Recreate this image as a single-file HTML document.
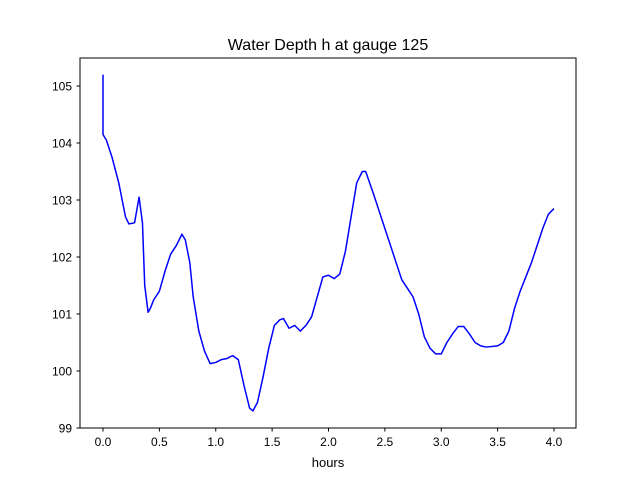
<!DOCTYPE html>
<html><head><meta charset="utf-8">
<style>
html,body{margin:0;padding:0;background:#fff;}
svg{display:block;font-family:"Liberation Sans","DejaVu Sans",sans-serif;}
</style></head>
<body>
<svg id="chart" width="640" height="480" viewBox="0 0 640 480">
<rect x="0" y="0" width="640" height="480" fill="#fff"/>
<text x="328" y="50" font-size="16" text-anchor="middle">Water Depth h at gauge 125</text>
<text x="328" y="467" font-size="13" text-anchor="middle">hours</text>
<g id="ticks"></g>
<path id="line" fill="none" stroke="#0000ff" stroke-width="1.5" stroke-linejoin="round"/>
<rect x="80" y="58" width="496" height="370" fill="none" stroke="#000" stroke-width="1"/>
</svg>
<script>
const hours = [0,0,0.03,0.08,0.14,0.2,0.23,0.28,0.32,0.35,0.37,0.4,0.42,0.45,0.5,0.55,0.6,0.65,0.7,0.73,0.77,0.8,0.85,0.9,0.95,1.0,1.05,1.1,1.15,1.2,1.25,1.3,1.33,1.37,1.42,1.47,1.52,1.57,1.6,1.65,1.7,1.75,1.8,1.85,1.9,1.95,2.0,2.05,2.1,2.15,2.2,2.25,2.3,2.33,2.4,2.5,2.6,2.65,2.7,2.75,2.8,2.85,2.9,2.95,3.0,3.05,3.1,3.15,3.2,3.25,3.3,3.35,3.4,3.5,3.55,3.6,3.65,3.7,3.75,3.8,3.85,3.9,3.95,4.0];
const depth = [105.2,104.15,104.05,103.75,103.3,102.7,102.58,102.6,103.05,102.6,101.5,101.03,101.1,101.25,101.4,101.75,102.05,102.2,102.4,102.3,101.9,101.3,100.7,100.35,100.13,100.15,100.2,100.22,100.27,100.2,99.75,99.35,99.3,99.45,99.9,100.4,100.8,100.9,100.92,100.75,100.8,100.7,100.8,100.95,101.3,101.65,101.68,101.62,101.7,102.1,102.7,103.3,103.5,103.5,103.1,102.5,101.9,101.6,101.45,101.3,101.0,100.6,100.4,100.3,100.3,100.5,100.65,100.78,100.78,100.65,100.5,100.44,100.42,100.44,100.5,100.7,101.1,101.4,101.65,101.9,102.2,102.5,102.75,102.85];
const xTicks = [0,0.5,1.0,1.5,2.0,2.5,3.0,3.5,4.0];
const xTickLabels = ["0.0","0.5","1.0","1.5","2.0","2.5","3.0","3.5","4.0"];
const yTicks = [99,100,101,102,103,104,105];
const yTickLabels = ["99","100","101","102","103","104","105"];

const xs = h => 103 + h * 112.75;
const ys = v => 428 - (v - 99) * 57;
const NS = "http://www.w3.org/2000/svg";
const g = document.getElementById('ticks');
function mk(tag, attrs, txt){const e=document.createElementNS(NS,tag);for(const k in attrs)e.setAttribute(k,attrs[k]);if(txt!==undefined)e.textContent=txt;g.appendChild(e);return e;}
xTicks.forEach((t,i)=>{
  const l=mk('line',{x1:xs(t),x2:xs(t),y1:428,y2:431.5,stroke:'#000'});
  
  
  const tx=mk('text',{x:xs(t),y:446,'font-size':12,'text-anchor':'middle'},xTickLabels[i]);
  
  
});
yTicks.forEach((t,i)=>{
  const l=mk('line',{x1:76.5,x2:80,y1:ys(t),y2:ys(t),stroke:'#000'});
  
  
  const tx=mk('text',{x:72,y:ys(t)+4.5,'font-size':12,'text-anchor':'end'},yTickLabels[i]);
  
  
});
document.getElementById('line').setAttribute('d', hours.map((h,i)=>(i?'L':'M')+xs(h).toFixed(2)+','+ys(depth[i]).toFixed(2)).join(''));
</script>
</body></html>
